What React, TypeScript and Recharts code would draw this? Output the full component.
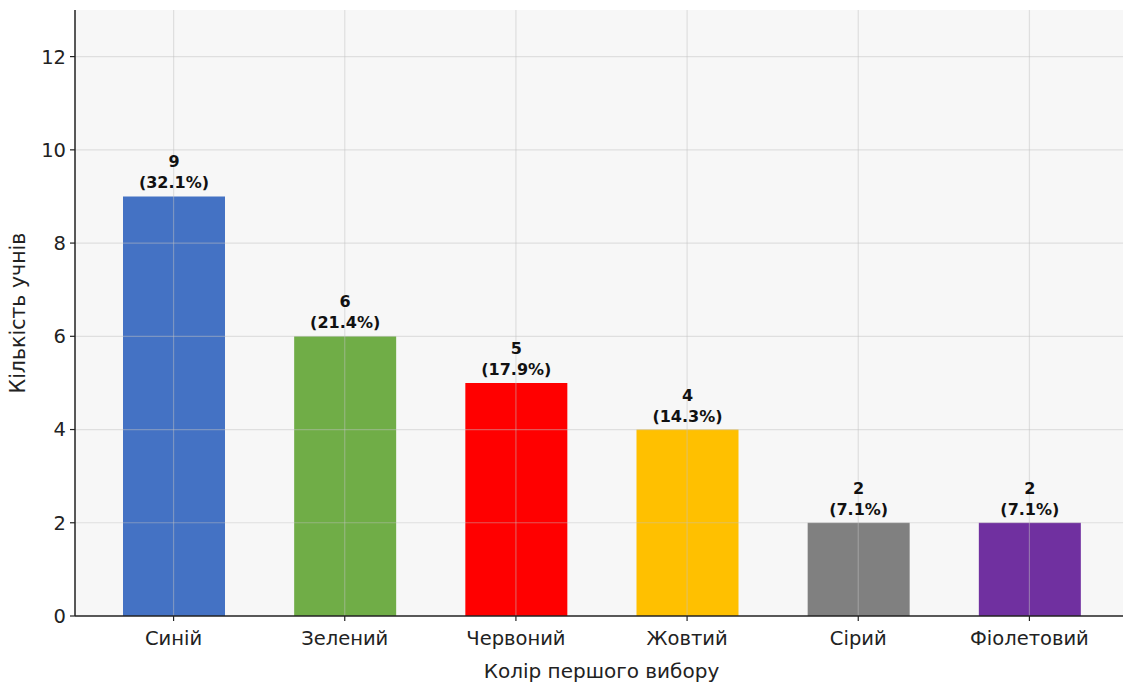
import { BarChart, Bar, XAxis, YAxis, CartesianGrid, Cell, LabelList, ReferenceLine } from "recharts"

const COLORS_UA = ["Синій", "Зелений", "Червоний", "Жовтий", "Сірий", "Фіолетовий"]
const COUNTS = [9, 6, 5, 4, 2, 2]
const FILLS = ["#4472C4", "#70AD47", "#FF0000", "#FFC000", "#808080", "#7030A0"]
const Y_TICKS = [0, 2, 4, 6, 8, 10, 12]

const TOTAL = COUNTS.reduce((a, b) => a + b, 0)
const data = COLORS_UA.map((name, i) => ({ name, count: COUNTS[i] }))

const FONT = "DejaVu Sans, sans-serif"
const GRID = { stroke: "#c0c0c0", strokeOpacity: 0.45, strokeWidth: 1.2 }

function BarLabel(props: any) {
  const { x, y, width, value } = props
  const cx = x + width / 2
  const pct = ((value / TOTAL) * 100).toFixed(1)
  return (
    <text x={cx} y={y} textAnchor="middle" fontFamily={FONT} fontSize={16} fontWeight="bold" fill="#111">
      <tspan x={cx} dy={-29}>{value}</tspan>
      <tspan x={cx} dy={21}>({pct}%)</tspan>
    </text>
  )
}

export default function App() {
  return (
    <div style={{ position: "absolute", left: 0, top: 0, background: "#fff" }}>
      <BarChart
        width={1123}
        height={684}
        data={data}
        margin={{ top: 10, right: -5, left: 0, bottom: 0 }}
        barCategoryGap={0}
      >
        <CartesianGrid fill="#f7f7f7" stroke="none" horizontal={false} vertical={false} />
        <XAxis
          dataKey="name"
          padding={{ left: 13, right: 13 }}
          tick={{ fontSize: 19.5, fill: "#222", fontFamily: FONT }}
          tickLine={{ stroke: "#222", strokeWidth: 1.2 }}
          tickSize={5}
          tickMargin={10}
          axisLine={{ stroke: "#222", strokeWidth: 1.5 }}
          height={68}
          label={{ value: "Колір першого вибору", position: "insideBottom", offset: 6, fontSize: 20, fill: "#222", fontFamily: FONT }}
        />
        <YAxis
          domain={[0, 13]}
          ticks={Y_TICKS}
          interval={0}
          tick={{ fontSize: 19.5, fill: "#222", fontFamily: FONT }}
          tickLine={{ stroke: "#222", strokeWidth: 1.2 }}
          tickSize={5}
          tickMargin={4}
          axisLine={{ stroke: "#222", strokeWidth: 1.5 }}
          width={75}
          label={{ value: "Кількість учнів", angle: -90, position: "insideLeft", offset: 18, fontSize: 20.5, fill: "#222", fontFamily: FONT, style: { textAnchor: "middle" } }}
        />
        <Bar dataKey="count" barSize={102} isAnimationActive={false}>
          {data.map((d, i) => (
            <Cell key={d.name} fill={FILLS[i]} />
          ))}
          <LabelList dataKey="count" content={BarLabel} />
        </Bar>
        {Y_TICKS.filter((t) => t > 0).map((t) => (
          <ReferenceLine key={`y${t}`} y={t} {...GRID} />
        ))}
        {COLORS_UA.map((c) => (
          <ReferenceLine key={`x${c}`} x={c} {...GRID} />
        ))}
      </BarChart>
    </div>
  )
}
